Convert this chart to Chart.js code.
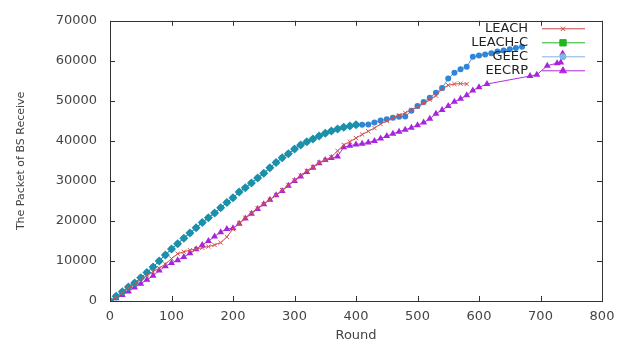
<!DOCTYPE html>
<html>
  <head>
    <title>The Packet of BS Receive</title>
    <script src="https://cdn.jsdelivr.net/npm/chart.js"></script>
    <style>
      html, body {
        margin: 0;
        padding: 0;
        background: #ffffff;
      }
    </style>
  </head>
  <body>
    <canvas id="myChart" width="627" height="344"></canvas>

    <script>
// values (round -> packets received at BS)
const leachRounds = [0, 10, 20, 30, 40, 50, 60, 70, 80, 90, 100, 110, 120, 130, 140, 150, 160, 170, 180, 190,
  200, 210, 220, 230, 240, 250, 260, 270, 280, 290, 300, 310, 320, 330, 340, 350, 360, 370, 380, 390,
  400, 410, 420, 430, 440, 450, 460, 470, 480, 490, 500, 510, 520, 530, 540, 550, 560, 570, 580];
const leachValues = [0, 900, 2000, 3200, 4300, 5400, 6400, 7300, 8200, 9200, 10600, 11800, 12300, 12700, 13000, 13300, 13600, 14000, 14600, 16000,
  18000, 19400, 20800, 22000, 23200, 24200, 25300, 26500, 27700, 29000, 30200, 31400, 32500, 33500, 34600, 35200, 36000, 37500, 39000, 39800,
  40700, 41600, 42400, 43200, 44200, 45000, 45700, 46400, 47000, 47700, 48500, 49400, 50300, 51300, 53000, 53900, 54200, 54300, 54200];

const leachCRounds = [0, 10, 20, 30, 40, 50, 60, 70, 80, 90, 100, 110, 120, 130, 140, 150, 160, 170, 180, 190,
  200, 210, 220, 230, 240, 250, 260, 270, 280, 290, 300, 310, 320, 330, 340, 350, 360, 370, 380, 390, 400];
const leachCValues = [0, 1200, 2300, 3500, 4500, 5800, 7100, 8500, 10000, 11500, 13000, 14300, 15700, 17000, 18300, 19600, 20800, 22000, 23300, 24600,
  25800, 27200, 28300, 29500, 30700, 31900, 33300, 34600, 35800, 36800, 38000, 39000, 39800, 40500, 41200, 41900, 42500, 43000, 43400, 43700, 44000];

const geecRounds = [0, 10, 20, 30, 40, 50, 60, 70, 80, 90, 100, 110, 120, 130, 140, 150, 160, 170, 180, 190,
  200, 210, 220, 230, 240, 250, 260, 270, 280, 290, 300, 310, 320, 330, 340, 350, 360, 370, 380, 390,
  400, 410, 420, 430, 440, 450, 460, 470, 480, 490, 500, 510, 520, 530, 540, 550, 560, 570, 580, 590,
  600, 610, 620, 630, 640, 650, 660, 670];
const geecValues = [0, 1200, 2300, 3500, 4500, 5800, 7100, 8500, 10000, 11500, 13000, 14300, 15700, 17000, 18300, 19600, 20800, 22000, 23300, 24600,
  25800, 27200, 28300, 29500, 30700, 31900, 33300, 34600, 35800, 36800, 38000, 39000, 39800, 40500, 41200, 41900, 42500, 43000, 43400, 43700,
  44000, 44000, 44100, 44600, 45100, 45400, 45800, 46000, 46100, 47500, 48700, 49700, 50800, 52000, 53200, 55600, 57000, 57900, 58500, 61000,
  61300, 61600, 61900, 62300, 62600, 62900, 63200, 63500];

const eecrpRounds = [0, 10, 20, 30, 40, 50, 60, 70, 80, 90, 100, 110, 120, 130, 140, 150, 160, 170, 180, 190,
  200, 210, 220, 230, 240, 250, 260, 270, 280, 290, 300, 310, 320, 330, 340, 350, 360, 370, 380, 390,
  400, 410, 420, 430, 440, 450, 460, 470, 480, 490, 500, 510, 520, 530, 540, 550, 560, 570, 580, 590,
  600, 613, 683, 694, 711, 727, 733, 736];
const eecrpValues = [0, 700, 1500, 2400, 3400, 4300, 5300, 6300, 7600, 8700, 9500, 10200, 11000, 11900, 12900, 14000, 15000, 16100, 17200, 18000,
  18200, 19300, 20600, 21800, 23000, 24200, 25300, 26400, 27500, 28800, 30000, 31100, 32200, 33300, 34400, 35200, 35700, 36100, 38400, 38800,
  39100, 39300, 39600, 40000, 40600, 41200, 41800, 42300, 42800, 43300, 43900, 44600, 45500, 46800, 47700, 48700, 49800, 50500, 51400, 52600,
  53400, 54200, 56200, 56500, 58800, 59400, 59600, 61800];

const seriesNames = ["LEACH", "LEACH-C", "GEEC", "EECRP"];
const legendColors = ["#cc4444", "#22b422", "#7fb4e6", "#b025dc"];
const legendMarkers = ["crossRot", "rect", "circle", "triangle"];

function toPoints(xs, ys) {
  return xs.map((x, i) => ({ x: x, y: ys[i] }));
}

// gnuplot-like frame with inward ticks, plus the key
const framePlugin = {
  id: "frame",
  afterDraw(chart) {
    const ctx = chart.ctx;
    const a = chart.chartArea;
    const xs = chart.scales.x;
    const ys = chart.scales.y;
    ctx.save();
    ctx.strokeStyle = "#333";
    ctx.lineWidth = 1;
    ctx.strokeRect(Math.round(a.left) + 0.5, Math.round(a.top) + 0.5, Math.round(a.right - a.left), Math.round(a.bottom - a.top));
    ctx.beginPath();
    xs.ticks.forEach((t) => {
      const px = Math.round(xs.getPixelForValue(t.value)) + 0.5;
      ctx.moveTo(px, a.bottom); ctx.lineTo(px, a.bottom - 5);
      ctx.moveTo(px, a.top); ctx.lineTo(px, a.top + 5);
    });
    ys.ticks.forEach((t) => {
      const py = Math.round(ys.getPixelForValue(t.value)) + 0.5;
      ctx.moveTo(a.left, py); ctx.lineTo(a.left + 5, py);
      ctx.moveTo(a.right, py); ctx.lineTo(a.right - 5, py);
    });
    ctx.stroke();

    ctx.font = "13px 'DejaVu Sans'";
    ctx.textAlign = "right";
    ctx.textBaseline = "middle";
    chart.data.datasets.forEach((ds, i) => {
      const y = a.top + 8 + i * 14;
      ctx.fillStyle = "#222";
      ctx.fillText(seriesNames[i], a.right - 74, y);
      ctx.strokeStyle = legendColors[i];
      ctx.lineWidth = 1;
      ctx.beginPath();
      ctx.moveTo(a.right - 60, y);
      ctx.lineTo(a.right - 17, y);
      ctx.stroke();
      ctx.fillStyle = legendColors[i];
      Chart.helpers.drawPoint(ctx, {
        pointStyle: legendMarkers[i],
        radius: ds.pointRadius,
        rotation: 0,
        borderWidth: 1.2
      }, a.right - 39, y);
    });
    ctx.restore();
  }
};

const fontFamily = "DejaVu Sans";
const ctx = document.getElementById("myChart").getContext("2d");
new Chart(ctx, {
  type: "line",
  data: {
    datasets: [
      {
        label: seriesNames[0],
        data: toPoints(leachRounds, leachValues),
        borderColor: "#d05050",
        backgroundColor: "#d05050",
        borderWidth: 1,
        pointStyle: "crossRot",
        pointRadius: 3,
        pointBorderWidth: 1,
      },
      {
        label: seriesNames[1],
        data: toPoints(leachCRounds, leachCValues),
        borderColor: "#1a90aa",
        backgroundColor: "#1a90aa",
        borderWidth: 1,
        pointStyle: "rectRot",
        pointRadius: 4.5,
        pointBorderWidth: 0,
      },
      {
        label: seriesNames[2],
        data: toPoints(geecRounds, geecValues),
        borderColor: "#4a9ae0",
        backgroundColor: "#2f86d8",
        borderWidth: 1,
        pointStyle: "circle",
        pointRadius: 3,
        pointBorderWidth: 0,
      },
      {
        label: seriesNames[3],
        data: toPoints(eecrpRounds, eecrpValues),
        borderColor: "#b030e0",
        backgroundColor: "#a824dc",
        borderWidth: 1,
        pointStyle: "triangle",
        pointRadius: 4,
        pointBorderWidth: 0,
      },
    ],
  },
  options: {
    responsive: false,
    animation: false,
    layout: { padding: { top: 13, right: 25, left: 0, bottom: 0 } },
    plugins: {
      legend: { display: false },
      tooltip: { enabled: false },
    },
    elements: { line: { tension: 0 } },
    scales: {
      x: {
        type: "linear",
        min: 0,
        max: 800,
        ticks: { stepSize: 100, padding: 8, color: "#444", font: { family: fontFamily, size: 13 }, maxRotation: 0,
          callback: (v) => String(v) },
        grid: { display: false, drawTicks: false },
        border: { display: false },
        title: { display: true, text: "Round", color: "#444", padding: { top: 0, bottom: 1 }, font: { family: fontFamily, size: 13 } },
        afterFit(scale) { scale.height = 43; },
      },
      y: {
        min: 0,
        max: 70000,
        ticks: { stepSize: 10000, padding: 13, color: "#444", font: { family: fontFamily, size: 13 },
          callback: (v) => String(v) },
        grid: { display: false, drawTicks: false },
        border: { display: false },
        title: { display: true, text: "The Packet of BS Receive", color: "#444", padding: { top: 15, bottom: 0 }, font: { family: fontFamily, size: 11 } },
        afterFit(scale) { scale.width = 110; },
      },
    },
  },
  plugins: [framePlugin],
});
    </script>
  </body>
</html>
